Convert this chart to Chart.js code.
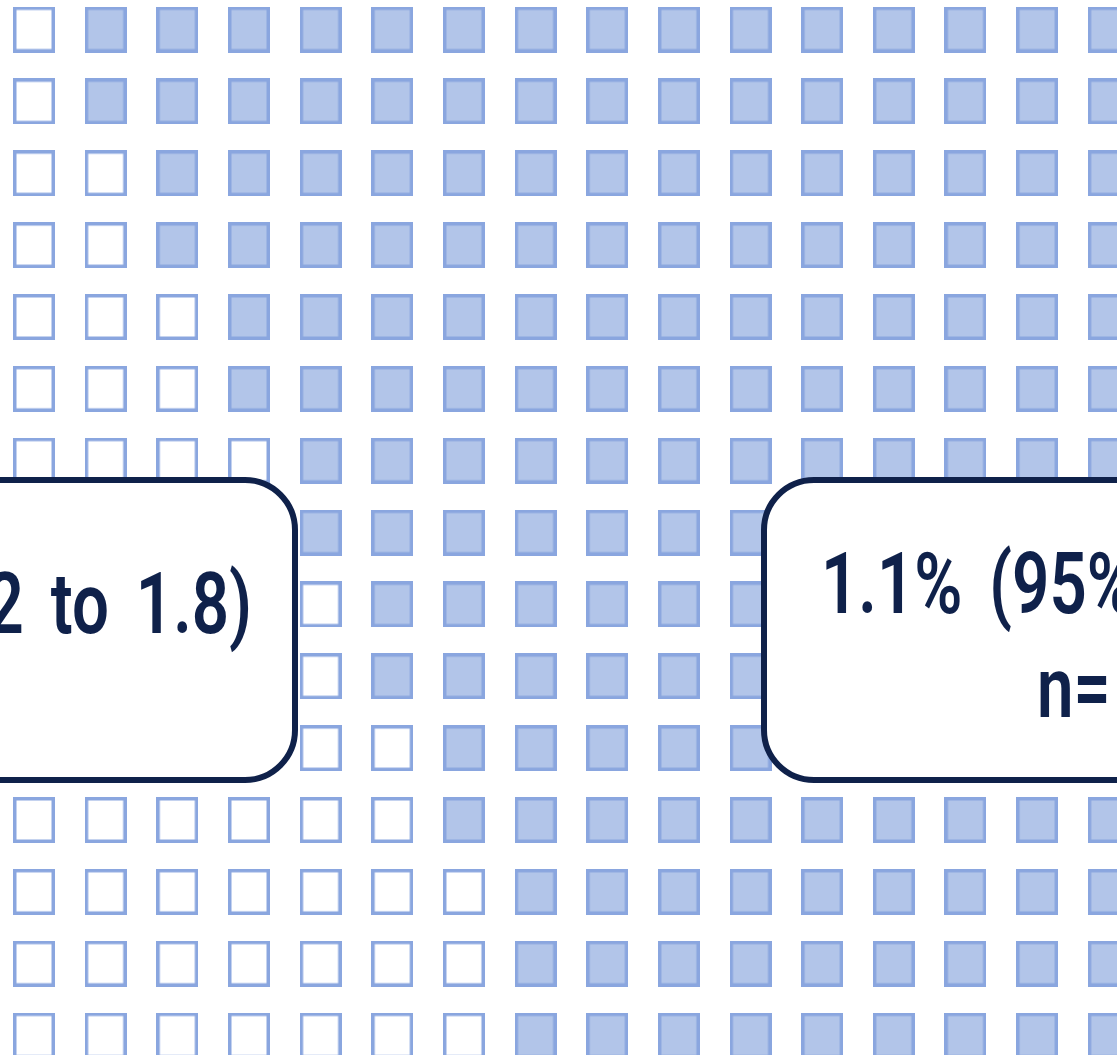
<!DOCTYPE html>
<html>
<head>
<meta charset="utf-8">
<script src="https://cdn.jsdelivr.net/npm/chart.js@4.4.1/dist/chart.umd.min.js"></script>
<style>
  html, body { margin: 0; padding: 0; background: #ffffff; }
  #wrap { width: 1117px; height: 1055px; position: relative; overflow: hidden; }
</style>
</head>
<body>
<div id="wrap"><canvas id="c" width="1117" height="1055"></canvas></div>
<script>
// ---- data ----
const columnCount = 16;                                   // visible columns
const emptyPerRow = [1, 1, 2, 2, 3, 3, 4, 4, 5, 5, 6, 6, 7, 7, 7]; // leading empty cells per row
const leftLabelLines = ["2 to 1.8)"];
const rightLabelLines = ["1.1% (95%", "n="];

// ---- build points ----
const filledPts = [], emptyPts = [];
emptyPerRow.forEach((nEmpty, row) => {
  for (let col = 0; col < columnCount; col++) {
    (col < nEmpty ? emptyPts : filledPts).push({ x: col, y: row });
  }
});

function makeSquare(filled) {
  const w = 42, h = 46, lw = 3.5;
  const cv = document.createElement('canvas');
  cv.width = w; cv.height = h;
  const g = cv.getContext('2d');
  g.fillStyle = filled ? '#b2c5e9' : '#ffffff';
  g.fillRect(0, 0, w, h);
  g.strokeStyle = '#8aa6df';
  g.lineWidth = lw;
  g.strokeRect(lw / 2, lw / 2, w - lw, h - lw);
  return cv;
}
const filledImg = makeSquare(true);
const emptyImg = makeSquare(false);

function roundRect(ctx, x, y, w, h, r) {
  ctx.beginPath();
  ctx.moveTo(x + r, y);
  ctx.lineTo(x + w - r, y);
  ctx.arcTo(x + w, y, x + w, y + r, r);
  ctx.lineTo(x + w, y + h - r);
  ctx.arcTo(x + w, y + h, x + w - r, y + h, r);
  ctx.lineTo(x + r, y + h);
  ctx.arcTo(x, y + h, x, y + h - r, r);
  ctx.lineTo(x, y + r);
  ctx.arcTo(x, y, x + r, y, r);
  ctx.closePath();
}

const labelPlugin = {
  id: 'labels',
  afterDraw(chart) {
    const ctx = chart.ctx;
    ctx.save();
    ctx.lineWidth = 6;
    ctx.strokeStyle = '#0f214a';
    ctx.fillStyle = '#ffffff';
    // left box
    roundRect(ctx, -300, 480, 595, 300, 50);
    ctx.fill(); ctx.stroke();
    // right box
    roundRect(ctx, 764, 480, 600, 300, 50);
    ctx.fill(); ctx.stroke();

    ctx.fillStyle = '#0f214a';
    ctx.font = '600 86px Roboto';
    ctx.textBaseline = 'alphabetic';
    try { ctx.wordSpacing = '14px'; } catch (e) {}
    const sx = 0.76;
    // left text (right aligned)
    ctx.save();
    ctx.translate(252, 633);
    ctx.scale(sx, 1);
    ctx.textAlign = 'right';
    ctx.fillText(leftLabelLines[0], 0, 0);
    ctx.restore();
    // right text (left aligned)
    const rightPos = [[821, 613], [1037, 717]];
    rightLabelLines.forEach((t, i) => {
      ctx.save();
      ctx.translate(rightPos[i][0], rightPos[i][1]);
      ctx.scale(sx, 1);
      ctx.textAlign = 'left';
      ctx.fillText(t, 0, 0);
      ctx.restore();
    });
    ctx.restore();
  }
};

new Chart(document.getElementById('c'), {
  type: 'scatter',
  data: {
    datasets: [
      { label: 'filled', data: filledPts, pointStyle: filledImg, pointRadius: 22, pointHoverRadius: 22 },
      { label: 'empty', data: emptyPts, pointStyle: emptyImg, pointRadius: 22, pointHoverRadius: 22 }
    ]
  },
  options: {
    responsive: false,
    maintainAspectRatio: false,
    animation: false,
    layout: { padding: 0, autoPadding: false },
    clip: false,
    events: [],
    plugins: { legend: { display: false }, tooltip: { enabled: false } },
    scales: {
      x: { type: 'linear', display: false, min: -34 / 71.65, max: (1117 - 34) / 71.65 },
      y: { type: 'linear', display: false, reverse: true, min: -29.5 / 71.86, max: (1055 - 29.5) / 71.86 }
    }
  },
  plugins: [labelPlugin]
});
</script>
</body>
</html>
